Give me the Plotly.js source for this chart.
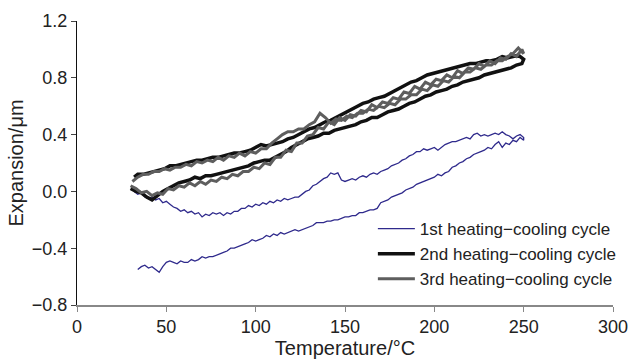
<!DOCTYPE html>
<html>
<head>
<meta charset="utf-8">
<script src="https://cdn.plot.ly/plotly-3.0.1.min.js"></script>
<style>html,body{margin:0;padding:0;background:#fff;}#chart{width:630px;height:359px;}</style>
</head>
<body>
<div id="chart"></div>
<script>
// Temperature axis ticks
const xTicks = [0, 50, 100, 150, 200, 250, 300];
const yTicks = [-0.8, -0.4, 0.0, 0.4, 0.8, 1.2];
const seriesNames = ["1st heating\u2212cooling cycle", "2nd heating\u2212cooling cycle", "3rd heating\u2212cooling cycle"];

// 1st cycle - heating branch
const c1HeatT = [32,34,36,38,40,42,44,46,48,50,52,54,56,58,60,62,64,66,68,70,72,74,76,78,80,82,84,86,88,90,92,94,96,98,100,102,104,106,108,110,112,114,116,118,120,122,124,126,128,130,132,134,136,138,140,142,144,146,148,150,152,154,156,158,160,162,164,166,168,170,172,174,176,178,180,182,184,186,188,190,192,194,196,198,200,202,204,206,208,210,212,214,216,218,220,222,224,226,228,230,232,234,236,238,240,242,244,246,248,250];
const c1HeatE = [0.00,-0.02,-0.01,-0.04,-0.05,-0.04,-0.06,-0.05,-0.08,-0.07,
-0.09,-0.11,-0.12,-0.14,-0.13,-0.15,-0.14,-0.16,-0.15,-0.18,
-0.16,-0.17,-0.15,-0.16,-0.15,-0.17,-0.15,-0.16,-0.14,-0.14,
-0.12,-0.12,-0.10,-0.11,-0.09,-0.10,-0.08,-0.09,-0.07,-0.08,
-0.06,-0.07,-0.05,-0.06,-0.05,-0.04,-0.04,-0.02,0.00,0.01,
0.04,0.05,0.07,0.09,0.10,0.13,0.12,0.13,0.08,0.07,
0.08,0.09,0.08,0.10,0.11,0.10,0.12,0.13,0.12,0.14,
0.15,0.16,0.18,0.19,0.20,0.22,0.23,0.25,0.26,0.28,
0.28,0.30,0.29,0.30,0.31,0.29,0.31,0.33,0.34,0.35,
0.35,0.36,0.37,0.38,0.37,0.40,0.41,0.39,0.40,0.39,
0.40,0.41,0.40,0.42,0.40,0.39,0.37,0.39,0.40,0.38];
// 1st cycle - cooling branch
const c1CoolT = [250,248,246,244,242,240,238,236,234,232,230,228,226,224,222,220,218,216,214,212,210,208,206,204,202,200,198,196,194,192,190,188,186,184,182,180,178,176,174,172,170,168,166,164,162,160,158,156,154,152,150,148,146,144,142,140,138,136,134,132,130,128,126,124,122,120,118,116,114,112,110,108,106,104,102,100,98,96,94,92,90,88,86,84,82,80,78,76,74,72,70,68,66,64,62,60,58,56,54,52,50,48,46,44,42,40,38,36,34];
const c1CoolE = [0.36,0.38,0.35,0.36,0.33,0.34,0.31,0.35,0.33,0.30,
0.31,0.29,0.28,0.27,0.26,0.24,0.23,0.21,0.20,0.18,
0.17,0.14,0.13,0.11,0.12,0.10,0.09,0.08,0.07,0.06,
0.05,0.03,0.02,0.01,-0.01,-0.02,-0.03,-0.04,-0.06,-0.07,
-0.08,-0.12,-0.13,-0.13,-0.14,-0.15,-0.15,-0.17,-0.17,-0.18,
-0.18,-0.19,-0.20,-0.20,-0.21,-0.21,-0.22,-0.22,-0.22,-0.24,
-0.25,-0.26,-0.27,-0.28,-0.27,-0.28,-0.29,-0.30,-0.29,-0.31,
-0.30,-0.32,-0.31,-0.33,-0.34,-0.35,-0.34,-0.36,-0.37,-0.38,
-0.39,-0.40,-0.40,-0.42,-0.43,-0.44,-0.45,-0.46,-0.46,-0.47,
-0.46,-0.48,-0.49,-0.48,-0.50,-0.50,-0.49,-0.51,-0.50,-0.49,
-0.50,-0.53,-0.57,-0.55,-0.53,-0.54,-0.52,-0.53,-0.55];

// 2nd cycle
const c2HeatT = [30,33,36,39,42,45,48,51,54,57,60,63,66,69,72,75,78,81,84,87,90,93,96,99,102,105,108,111,114,117,120,123,126,129,132,135,138,141,144,147,150,153,156,159,162,165,168,171,174,177,180,183,186,189,192,195,198,201,204,207,210,213,216,219,222,225,228,231,234,237,240,243,246,249];
const c2HeatE = [0.02,0.00,-0.01,-0.04,-0.06,-0.03,0.00,0.02,0.04,0.06,
0.07,0.08,0.10,0.09,0.11,0.11,0.12,0.13,0.14,0.15,
0.16,0.17,0.18,0.20,0.21,0.22,0.22,0.24,0.26,0.28,
0.31,0.33,0.35,0.37,0.38,0.39,0.41,0.41,0.43,0.44,
0.45,0.46,0.47,0.49,0.50,0.52,0.52,0.54,0.56,0.57,
0.58,0.60,0.62,0.63,0.65,0.67,0.68,0.70,0.71,0.72,
0.74,0.75,0.77,0.78,0.79,0.80,0.82,0.83,0.84,0.85,
0.86,0.87,0.89,0.90];
const c2CoolT = [250,247,244,241,238,235,232,229,226,223,220,217,214,211,208,205,202,199,196,193,190,187,184,181,178,175,172,169,166,163,160,157,154,151,148,145,142,139,136,133,130,127,124,121,118,115,112,109,106,103,100,97,94,91,88,85,82,79,76,73,70,67,64,61,58,55,52,49,46,43,40,37,34,32];
const c2CoolE = [0.93,0.96,0.95,0.94,0.95,0.93,0.92,0.92,0.91,0.90,
0.90,0.89,0.88,0.87,0.86,0.85,0.84,0.83,0.82,0.80,
0.78,0.77,0.75,0.73,0.71,0.69,0.67,0.66,0.65,0.63,
0.62,0.60,0.58,0.56,0.54,0.52,0.50,0.49,0.47,0.45,
0.44,0.42,0.40,0.38,0.37,0.35,0.34,0.33,0.32,0.33,
0.31,0.29,0.28,0.27,0.27,0.26,0.25,0.24,0.24,0.23,
0.22,0.22,0.21,0.20,0.19,0.18,0.18,0.16,0.15,0.14,
0.13,0.12,0.12,0.10];

// 3rd cycle
const c3HeatT = [30,33,36,39,42,45,48,51,54,57,60,63,66,69,72,75,78,81,84,87,90,93,96,99,102,105,108,111,114,117,120,123,126,129,132,135,138,141,144,147,150,153,156,159,162,165,168,171,174,177,180,183,186,189,192,195,198,201,204,207,210,213,216,219,222,225,228,231,234,237,240,243,246,249];
const c3HeatE = [0.04,0.02,-0.01,0.00,-0.03,-0.01,-0.02,0.02,0.01,0.04,
0.03,0.06,0.04,0.07,0.05,0.08,0.07,0.10,0.09,0.12,
0.11,0.14,0.14,0.17,0.16,0.20,0.19,0.24,0.24,0.29,
0.28,0.34,0.34,0.39,0.40,0.45,0.44,0.49,0.47,0.52,
0.50,0.54,0.53,0.57,0.56,0.61,0.59,0.63,0.62,0.66,
0.65,0.70,0.69,0.74,0.72,0.77,0.75,0.79,0.78,0.82,
0.80,0.85,0.83,0.87,0.86,0.90,0.88,0.92,0.90,0.94,
0.93,0.97,0.95,1.00];
const c3CoolT = [250,247,244,241,238,235,232,229,226,223,220,217,214,211,208,205,202,199,196,193,190,187,184,181,178,175,172,169,166,163,160,157,154,151,148,145,142,139,136,133,130,127,124,121,118,115,112,109,106,103,100,97,94,91,88,85,82,79,76,73,70,67,64,61,58,55,52,49,46,43,40,37,34,31];
const c3CoolE = [0.97,1.01,0.97,0.95,0.92,0.92,0.89,0.89,0.86,0.87,
0.84,0.84,0.80,0.81,0.77,0.78,0.74,0.75,0.71,0.72,
0.68,0.68,0.65,0.65,0.61,0.62,0.59,0.60,0.57,0.58,
0.55,0.55,0.52,0.53,0.50,0.51,0.48,0.52,0.55,0.49,
0.47,0.44,0.44,0.42,0.42,0.40,0.37,0.34,0.30,0.30,
0.27,0.28,0.25,0.27,0.24,0.25,0.22,0.24,0.21,0.22,
0.20,0.21,0.18,0.19,0.17,0.17,0.15,0.16,0.14,0.14,
0.12,0.12,0.10,0.07];

const FONT = "'Liberation Sans', Arial, Helvetica, sans-serif";

const traces = [
  {x: c1HeatT.concat(c1CoolT), y: c1HeatE.concat(c1CoolE), name: seriesNames[0], mode: 'lines',
   line: {color: '#2f2a8c', width: 1.3}},
  {x: c2HeatT.concat(c2CoolT), y: c2HeatE.concat(c2CoolE), name: seriesNames[1], mode: 'lines',
   line: {color: '#111111', width: 3.5}},
  {x: c3HeatT.concat(c3CoolT), y: c3HeatE.concat(c3CoolE), name: seriesNames[2], mode: 'lines',
   line: {color: '#5e5e5e', width: 3}}
];

const layout = {
  width: 630, height: 359,
  margin: {l: 77, r: 17, t: 21, b: 54, pad: 0, autoexpand: false},
  paper_bgcolor: '#fff', plot_bgcolor: '#fff',
  font: {family: FONT, color: '#222', size: 17},
  showlegend: true,
  legend: {x: 0.552, y: 0.331, xanchor: 'left', yanchor: 'top', bgcolor: 'rgba(0,0,0,0)', itemwidth: 37,
           font: {family: FONT, size: 17, color: '#222'}, borderwidth: 0},
  xaxis: {range: [0, 300], tickvals: xTicks, ticktext: xTicks.map(String), ticks: 'outside', ticklen: 5,
          tickcolor: '#888', tickwidth: 1, showline: true, linecolor: '#888', linewidth: 1.5, automargin: true,
          showgrid: false, zeroline: false, tickfont: {family: FONT, size: 18, color: '#222'},
          title: {text: 'Temperature/\u00b0C', font: {family: FONT, size: 20, color: '#222'}, standoff: 4}},
  yaxis: {range: [-0.8, 1.2], tickvals: yTicks, ticktext: yTicks.map(v => v.toFixed(1).replace('-', '\u2212')),
          ticks: 'outside', ticklen: 5, tickcolor: '#444', tickwidth: 1, showline: true, linecolor: '#111', linewidth: 1,
          automargin: true,
          showgrid: false, zeroline: false, tickfont: {family: FONT, size: 18, color: '#222'},
          title: {text: 'Expansion/\u03bcm', font: {family: FONT, size: 20, color: '#222'}, standoff: 2}}
};

Plotly.newPlot('chart', traces, layout, {displayModeBar: false, staticPlot: true});
</script>
</body>
</html>
